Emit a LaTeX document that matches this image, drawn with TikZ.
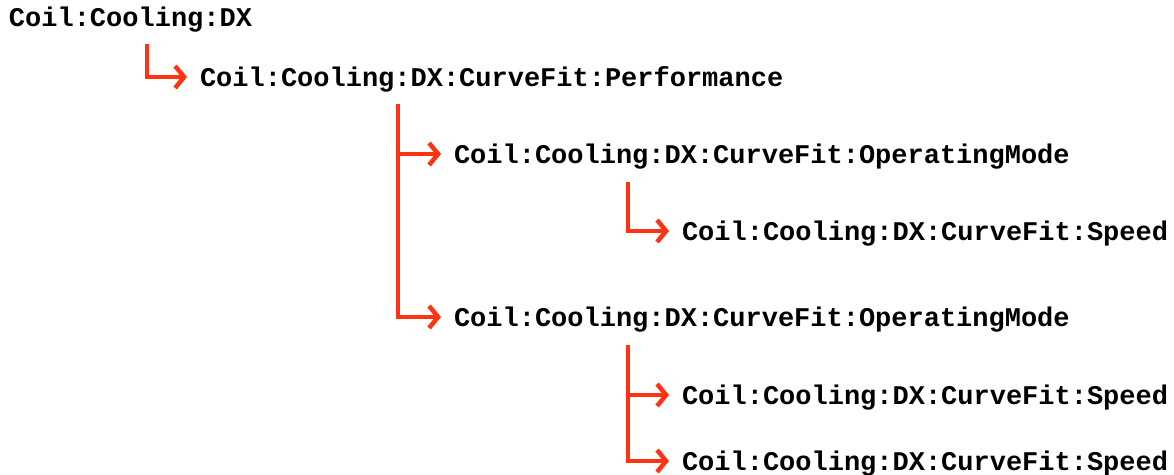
\documentclass[tikz,border=0pt]{standalone}
\usepackage{fontspec}
\setmonofont{Liberation Mono}
\usetikzlibrary{arrows.meta}
\definecolor{arrowred}{RGB}{255,51,17}
\tikzset{
  lbl/.style={anchor=west, inner sep=0pt, outer sep=0pt, text height=18pt, text depth=0pt,
    font=\ttfamily\bfseries\fontsize{27}{27}\selectfont},
  conn/.style={draw=arrowred, line width=4.5pt, line cap=butt, line join=miter,
    -{Straight Barb[length=9pt,width=22pt,line width=4.5pt]}, shorten >=13pt}
}
\begin{document}
\begin{tikzpicture}[x=1pt,y=-1pt]
\useasboundingbox (0,0) rectangle (1174,474);
\node[lbl] (n1) at (9,17) {Coil:Cooling:DX};
\node[lbl] (n2) at (200,77) {Coil:Cooling:DX:CurveFit:Performance};
\node[lbl] (n3) at (454,154) {Coil:Cooling:DX:CurveFit:OperatingMode};
\node[lbl] (n4) at (682,231) {Coil:Cooling:DX:CurveFit:Speed};
\node[lbl] (n5) at (454,317) {Coil:Cooling:DX:CurveFit:OperatingMode};
\node[lbl] (n6) at (682,395) {Coil:Cooling:DX:CurveFit:Speed};
\node[lbl] (n7) at (682,461) {Coil:Cooling:DX:CurveFit:Speed};
\coordinate (c1) at (147,44);
\coordinate (c2) at (398,104);
\coordinate (c3) at (628,182);
\coordinate (c4) at (628,345);
\draw[conn] (c1) |- (n2.west);
\draw[conn] (c2) |- (n3.west);
\draw[conn] (c2) |- (n5.west);
\draw[conn] (c3) |- (n4.west);
\draw[conn] (c4) |- (n6.west);
\draw[conn] (c4) |- (n7.west);
\end{tikzpicture}
\end{document}
